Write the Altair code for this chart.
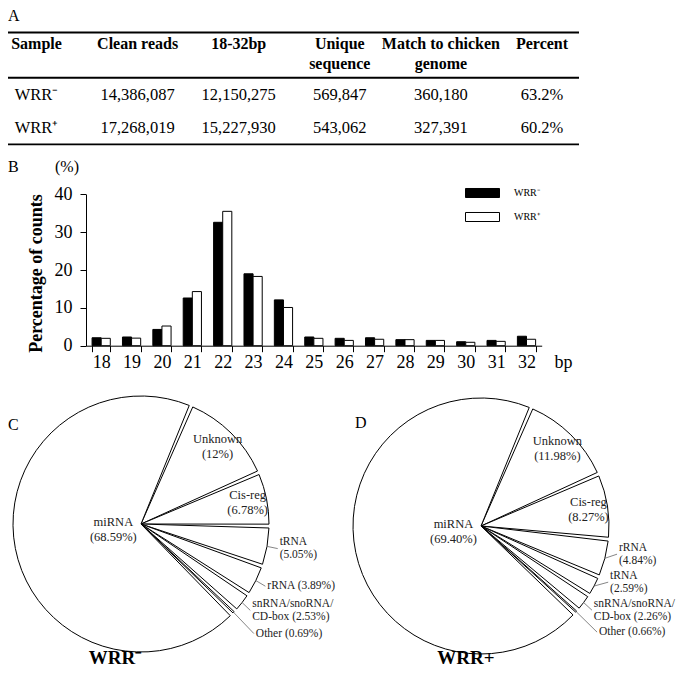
import altair as alt
import pandas as pd
import numpy as np

# ---------------- data ----------------
table_columns = ["Sample", "Clean reads", "18-32bp", "Unique\nsequence",
                 "Match to chicken\ngenome", "Percent"]
samples = ["WRR⁻", "WRR⁺"]
clean_reads = ["14,386,087", "17,268,019"]
reads_18_32 = ["12,150,275", "15,227,930"]
unique_sequence = ["569,847", "543,062"]
match_genome = ["360,180", "327,391"]
percent_match = ["63.2%", "60.2%"]

lengths = [18, 19, 20, 21, 22, 23, 24, 25, 26, 27, 28, 29, 30, 31, 32]
pct_minus = [2.1, 2.3, 4.3, 12.6, 32.6, 19.0, 12.1, 2.3, 1.95, 2.1, 1.6, 1.4, 1.05, 1.4, 2.5]
pct_plus = [1.95, 2.0, 5.2, 14.3, 35.5, 18.3, 10.1, 1.95, 1.4, 1.7, 1.6, 1.4, 0.9, 1.15, 1.7]

c_names = ["Unknown", "Cis-reg", "tRNA", "rRNA", "snRNA/snoRNA/CD-box", "Other", "miRNA"]
c_values = [12.0, 6.78, 5.05, 3.89, 2.53, 0.69, 68.59]
c_labels = ["Unknown\n(12%)", "Cis-reg\n(6.78%)", "tRNA\n(5.05%)", "rRNA (3.89%)",
            "snRNA/snoRNA/\nCD-box (2.53%)", "Other (0.69%)", "miRNA\n(68.59%)"]

d_names = ["Unknown", "Cis-reg", "rRNA", "tRNA", "snRNA/snoRNA/CD-box", "Other", "miRNA"]
d_values = [11.98, 8.27, 4.84, 2.59, 2.26, 0.66, 69.40]
d_labels = ["Unknown\n(11.98%)", "Cis-reg\n(8.27%)", "rRNA\n(4.84%)", "tRNA\n(2.59%)",
            "snRNA/snoRNA/\nCD-box (2.26%)", "Other (0.66%)", "miRNA\n(69.40%)"]

# ---------------- layout / style ----------------
FONT = "Liberation Serif"
W, H = 669, 661
layers = []


def note(text, x, y, size, weight="normal", align="left", baseline="middle"):
    return alt.Chart(pd.DataFrame({"t": [text]})).mark_text(
        font=FONT, fontSize=size, fontWeight=weight, align=align,
        baseline=baseline, color="black", lineBreak="\n"
    ).encode(x=alt.value(x), y=alt.value(y), text="t:N")


def hrule(y, x1, x2, w):
    return alt.Chart(pd.DataFrame({"a": [0]})).mark_rule(
        color="black", strokeWidth=w
    ).encode(x=alt.value(x1), x2=alt.value(x2), y=alt.value(y))


# ---------------- Panel A: table ----------------
layers.append(note("A", 0, 0, 16, baseline="top"))
layers.append(hrule(24.5, 0, 571, 2))
layers.append(hrule(69.7, 0, 571, 2))
layers.append(hrule(136.3, 0, 571, 1.8))

col_scale = alt.Scale(type="point", domain=table_columns, range=[28.5, 534], padding=0)
row_scale = alt.Scale(type="point", domain=samples, range=[87, 120.3], padding=0)

header_df = pd.DataFrame({"col": table_columns})
layers.append(
    alt.Chart(header_df).mark_text(
        font=FONT, fontSize=16, fontWeight="bold", baseline="top",
        lineBreak="\n", lineHeight=20, color="black"
    ).encode(
        x=alt.X("col:N", scale=col_scale, axis=None),
        y=alt.value(28),
        text="col:N",
    )
)

cell_rows = []
for i, s in enumerate(samples):
    vals = [s, clean_reads[i], reads_18_32[i], unique_sequence[i], match_genome[i], percent_match[i]]
    for col, v in zip(table_columns, vals):
        cell_rows.append({"col": col, "row": s, "text": v})
cells = pd.DataFrame(cell_rows)
layers.append(
    alt.Chart(cells).mark_text(font=FONT, fontSize=16.5, color="black").encode(
        x=alt.X("col:N", scale=col_scale, axis=None),
        y=alt.Y("row:N", scale=row_scale, axis=None),
        text="text:N",
    )
)

# ---------------- Panel B: bars ----------------
layers.append(note("B", 0, 159, 16))
layers.append(note("(%)", 59, 159, 16, align="center"))

bars_df = pd.DataFrame({
    "bp": lengths * 2,
    "sample": [samples[0]] * len(lengths) + [samples[1]] * len(lengths),
    "pct": pct_minus + pct_plus,
})
bars = alt.Chart(bars_df).mark_bar(stroke="black", strokeWidth=1).encode(
    x=alt.X(
        "bp:O",
        scale=alt.Scale(range=[78, 533.7], paddingInner=0.4, paddingOuter=0.2),
        axis=alt.Axis(
            orient="bottom", offset=-(H - 337.7), title="bp", labelAngle=0,
            labelFont=FONT, labelFontSize=18, labelColor="black", labelPadding=2,
            tickBand="extent", tickSize=6, tickColor="black", domainColor="black",
            titleFont=FONT, titleFontSize=18, titleFontWeight="normal", titleColor="black",
            titleX=546, titleY=8, titleAlign="left", titleBaseline="top",
        ),
    ),
    xOffset=alt.XOffset("sample:N", scale=alt.Scale(domain=samples)),
    y=alt.Y(
        "pct:Q",
        scale=alt.Scale(domain=[0, 40], range=[337.7, 186.3], nice=False),
        axis=alt.Axis(
            orient="left", offset=-78, values=[0, 10, 20, 30, 40], grid=False,
            tickSize=6, tickColor="black", domainColor="black",
            labelFont=FONT, labelFontSize=18, labelColor="black", labelPadding=8,
            title="Percentage of counts", titleFont=FONT, titleFontSize=18,
            titleFontWeight="bold", titleColor="black",
            titleX=-50, titleY=265, titleAngle=-90, titleAlign="center",
            titleBaseline="middle",
        ),
    ),
    fill=alt.Fill(
        "sample:N",
        scale=alt.Scale(domain=samples, range=["black", "white"]),
        legend=alt.Legend(
            title=None, orient="none", legendX=457, legendY=173,
            symbolType="M-1,-0.265H1V0.265H-1Z", symbolSize=1156,
            symbolStrokeColor="black", symbolStrokeWidth=1,
            labelFont=FONT, labelFontSize=10, labelColor="black", labelOffset=14,
            clipHeight=24, rowPadding=0, padding=0,
        ),
    ),
)
layers.append(bars)

# ---------------- Panels C and D: pies ----------------
START = np.deg2rad(23)
theta_scale = alt.Scale(domain=[0, 1], range=[START, START + 2 * np.pi])
LH_IN, LH_OUT = 15.0, 13.0


def pie(names, values, labels, cx, cy, R):
    v = np.array(values, dtype=float)
    total = v.sum()
    start_frac = (np.cumsum(v) - v) / total
    mid = START + 2 * np.pi * (start_frac + v / total / 2)
    nlines = np.array([lab.count("\n") + 1 for lab in labels])
    outside = v < 6
    rf = np.where(v > 50, 0.22, np.where(v >= 6, 0.85, np.where(v < 1, 1.24, 1.10)))
    lx = rf * np.sin(mid)
    ly = -rf * np.cos(mid)
    # simple bottom-up collision avoidance for outside labels
    out_idx = [i for i in np.argsort(mid) if outside[i]]
    gap = 2.0 / R
    for k in range(len(out_idx) - 2, -1, -1):
        i, j = out_idx[k], out_idx[k + 1]
        hi = nlines[i] * LH_OUT / R
        hj = nlines[j] * LH_OUT / R
        limit = ly[j] - hj / 2 - gap - hi / 2
        if ly[i] > limit:
            ly[i] = limit
    for i in out_idx:
        lx[i] = np.sqrt(max(rf[i] ** 2 - ly[i] ** 2, 0.0))
    lh = np.where(outside, LH_OUT, LH_IN) / R
    ty = ly - (nlines - 1) * lh / 2
    df = pd.DataFrame({
        "name": names, "value": v, "label": labels, "idx": np.arange(len(v)),
        "ox": 0.0, "oy": 0.0,
        "lx": lx, "ty": ty,
        "ax": np.sin(mid), "ay": -np.cos(mid),
        "bx": lx - 0.015, "by": ly,
        "outside": outside,
    })
    xs = alt.Scale(domain=[-1, 1], range=[cx - R, cx + R], nice=False, zero=False)
    ys = alt.Scale(domain=[-1, 1], range=[cy - R, cy + R], nice=False, zero=False)
    arc = alt.Chart(df).mark_arc(
        outerRadius=R, fill="white", stroke="black", strokeWidth=1, padAngle=0.03
    ).encode(
        theta=alt.Theta("value:Q", stack="normalize", scale=theta_scale),
        order=alt.Order("idx:Q", sort="ascending"),
        x=alt.X("ox:Q", scale=xs, axis=None),
        y=alt.Y("oy:Q", scale=ys, axis=None),
    )
    inside = alt.Chart(df).transform_filter("!datum.outside").mark_text(
        font=FONT, fontSize=12.5, color="#222", lineBreak="\n", lineHeight=LH_IN,
        align="center", baseline="middle"
    ).encode(
        x=alt.X("lx:Q", scale=xs, axis=None),
        y=alt.Y("ty:Q", scale=ys, axis=None),
        text="label:N",
    )
    outside_t = alt.Chart(df).transform_filter("datum.outside").mark_text(
        font=FONT, fontSize=11.5, color="#222", lineBreak="\n", lineHeight=LH_OUT,
        align="left", baseline="middle"
    ).encode(
        x=alt.X("lx:Q", scale=xs, axis=None),
        y=alt.Y("ty:Q", scale=ys, axis=None),
        text="label:N",
    )
    leaders = alt.Chart(df).transform_filter("datum.outside").mark_rule(
        color="#666", strokeWidth=0.8
    ).encode(
        x=alt.X("ax:Q", scale=xs, axis=None),
        y=alt.Y("ay:Q", scale=ys, axis=None),
        x2="bx:Q",
        y2="by:Q",
    )
    return [arc, leaders, inside, outside_t]


layers.append(note("C", 0, 417, 16))
layers.append(note("D", 347, 415, 16))
layers += pie(c_names, c_values, c_labels, 133, 516, 128)
layers += pie(d_names, d_values, d_labels, 473, 518, 128)
layers.append(note("WRR⁻", 107, 656, 19, weight="bold", align="center", baseline="alphabetic"))
layers.append(note("WRR+", 458, 656, 19, weight="bold", align="center", baseline="alphabetic"))

chart = alt.layer(*layers).resolve_scale(
    x="independent", y="independent"
).properties(
    width=W, height=H, padding=0,
    autosize=alt.AutoSizeParams(type="none"),
    background="white",
).configure_view(stroke=None)

chart.save("out.html", embed_options={"renderer": "svg", "actions": False})
